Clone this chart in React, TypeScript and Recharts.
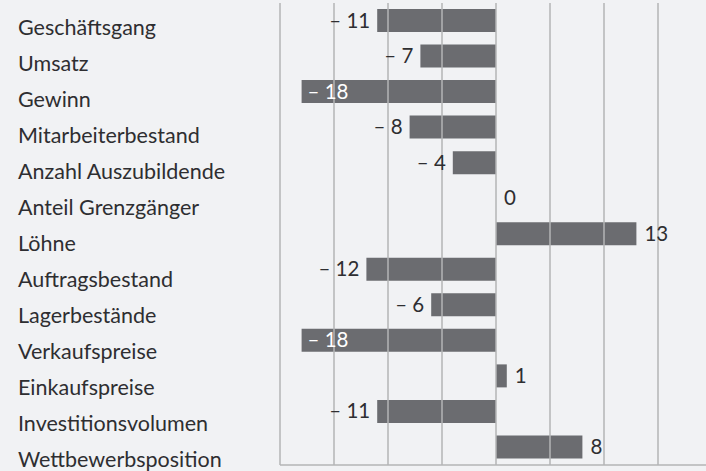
import React from 'react';
import { BarChart, Bar, XAxis, YAxis, ReferenceLine, LabelList } from 'recharts';

const categories = [
  'Geschäftsgang',
  'Umsatz',
  'Gewinn',
  'Mitarbeiterbestand',
  'Anzahl Auszubildende',
  'Anteil Grenzgänger',
  'Löhne',
  'Auftragsbestand',
  'Lagerbestände',
  'Verkaufspreise',
  'Einkaufspreise',
  'Investitionsvolumen',
  'Wettbewerbsposition',
];
const values = [-11, -7, -18, -8, -4, 0, 13, -12, -6, -18, 1, -11, 8];
const xTicks = [-20, -15, -10, -5, 0, 5, 10, 15, 20];

const data = categories.map((name, i) => ({ name, value: values[i] }));

const FONT = 'Lato, "Noto Sans", sans-serif';
const TEXT = '#2e2e31';
const BAR = '#6b6c70';
const GRID = '#b3b4b6';
const BG = '#f1f2f4';

const fmt = (v: number) => (v < 0 ? `\u2013 ${Math.abs(v)}` : `${v}`);

const CategoryTick = (props: any) => {
  const { y, payload, index } = props;
  return (
    <text x={18} y={y + 14 + index * 0.45} fill={TEXT} fontFamily={FONT} fontSize={21.5} textAnchor="start">
      {payload.value}
    </text>
  );
};

const ValueLabel = (props: any) => {
  const { x, y, width, height, value } = props;
  const left = Math.min(x, x + width);
  const right = Math.max(x, x + width);
  const common = { fontFamily: FONT, fontSize: 20.5, y: y + height / 2 + 7 };
  if (value < 0) {
    if (value <= -15) {
      // no room left of the bar: write it inside
      return (
        <text {...common} x={left + 6} fill="#ffffff" textAnchor="start">
          {fmt(value)}
        </text>
      );
    }
    return (
      <text {...common} x={left - 7} fill={TEXT} textAnchor="end">
        {fmt(value)}
      </text>
    );
  }
  return (
    <text {...common} x={right + 8} fill={TEXT} textAnchor="start">
      {fmt(value)}
    </text>
  );
};

export default function App() {
  return (
    <div style={{ position: 'absolute', left: 0, top: 0, width: 706, height: 471, overflow: 'hidden', background: BG }}>
      <BarChart
        width={720}
        height={471}
        data={data}
        layout="vertical"
        margin={{ top: 3, right: 8, left: 0, bottom: 5 }}
        barSize={23}
      >
        <XAxis
          type="number"
          domain={[-20, 20]}
          ticks={xTicks}
          tick={false}
          tickLine={false}
          height={1}
          axisLine={{ stroke: GRID, strokeWidth: 1.5 }}
        />
        <YAxis
          type="category"
          dataKey="name"
          width={280}
          axisLine={false}
          tickLine={false}
          tick={<CategoryTick />}
          interval={0}
        />
        {xTicks.map((t) => (
          <ReferenceLine key={t} x={t} stroke={GRID} strokeWidth={1.5} />
        ))}
        <Bar
          dataKey="value"
          fill={BAR}
          isAnimationActive={false}
          minPointSize={(v: number) => (v === 0 ? 0.01 : 0)}
        >
          <LabelList dataKey="value" content={<ValueLabel />} />
        </Bar>
      </BarChart>
    </div>
  );
}
